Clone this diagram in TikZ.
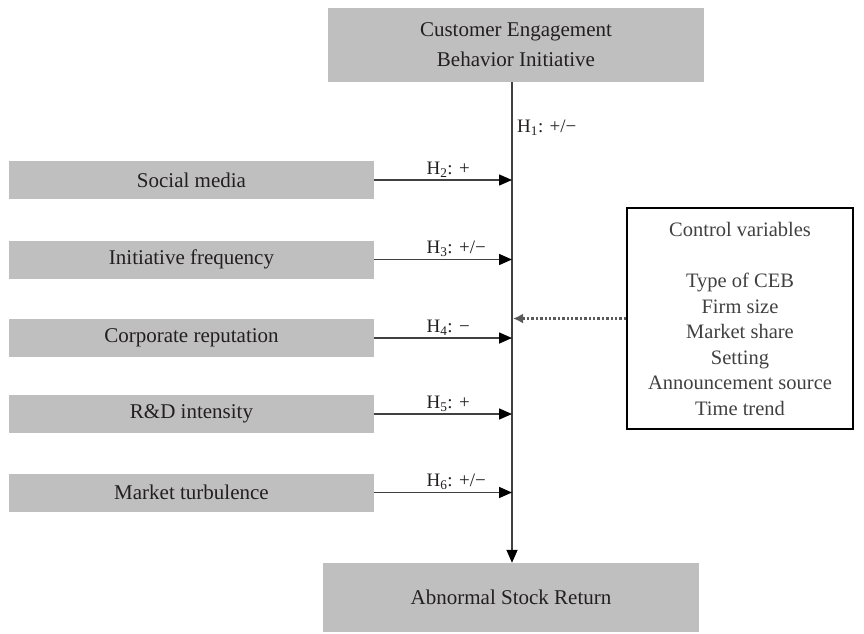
\documentclass[tikz,border=0pt]{standalone}
\usepackage{fontspec}
\setmainfont{Liberation Serif}
\usetikzlibrary{arrows.meta}
\definecolor{boxgray}{HTML}{BFBFBF}
\definecolor{inkgray}{HTML}{231F20}
\definecolor{linegray}{HTML}{404040}
\definecolor{dotgray}{HTML}{5A5A5A}

\begin{document}
\begin{tikzpicture}[x=1pt,y=-1pt]

\def\spinex{512}
\def\leftx{191.5}
\def\boxfont{\fontsize{21}{30}\selectfont}
\def\hfont{\fontsize{19}{22}\selectfont}

\tikzset{factor/.style = {fill=boxgray, minimum width=365pt, minimum height=38pt, inner sep=0pt, text=inkgray, font=\boxfont}}
\tikzset{outcome/.style = {fill=boxgray, minimum width=376pt, inner sep=0pt, align=center, text=inkgray, font=\boxfont}}
\tikzset{hyp/.style = {draw=linegray, line width=1.5pt, -{Triangle[length=13pt,width=11pt,color=black]}}}
\tikzset{hyplabel/.style = {pos=0.36, anchor=south west, inner sep=2pt, text=inkgray, font=\hfont}}
\tikzset{ctrl/.style = {draw=dotgray, line width=2.4pt, dash pattern=on 2.4pt off 2pt, -{Latex[length=10pt,width=10pt]}}}

\useasboundingbox (0,0) rectangle (864,633);

\node[outcome, minimum height=74pt] (ceb) at (516,45) {Customer Engagement\\Behavior Initiative};
\node[outcome, minimum height=69pt] (asr) at (511,597.5) {Abnormal Stock Return};
\coordinate (spine) at (\spinex,0);

\draw[hyp] (ceb.south -| spine) -- (asr.north -| spine);
\node[anchor=west, inner sep=2pt, text=inkgray, font=\hfont] (h1) at (\spinex+3,128) {H\textsubscript{1}: +/−};

\node[factor] (sm) at (\leftx,180) {Social media};
\node[factor] (inf) at (\leftx,259.5) {Initiative frequency};
\node[factor] (crep) at (\leftx,338) {Corporate reputation};
\node[factor] (rd) at (\leftx,414) {R\&D intensity};
\node[factor] (mt) at (\leftx,492.5) {Market turbulence};

\draw[hyp] (sm.east) -- (sm.east -| spine) node[hyplabel] {H\textsubscript{2}: +};
\draw[hyp] (inf.east) -- (inf.east -| spine) node[hyplabel] {H\textsubscript{3}: +/−};
\draw[hyp] (crep.east) -- (crep.east -| spine) node[hyplabel] {H\textsubscript{4}: −};
\draw[hyp] (rd.east) -- (rd.east -| spine) node[hyplabel] {H\textsubscript{5}: +};
\draw[hyp] (mt.east) -- (mt.east -| spine) node[hyplabel] {H\textsubscript{6}: +/−};

\node[draw=black, line width=1.5pt, minimum width=226pt, minimum height=221pt, align=center,
  text=linegray, font=\fontsize{20.5}{25.5}\selectfont] (cv) at (740,318.5)
  {Control variables\\[26pt]Type of CEB\\Firm size\\Market share\\Setting\\Announcement source\\Time trend};
\draw[ctrl] (cv.west) -- ([xshift=1pt]cv.west -| spine);

\end{tikzpicture}
\end{document}
